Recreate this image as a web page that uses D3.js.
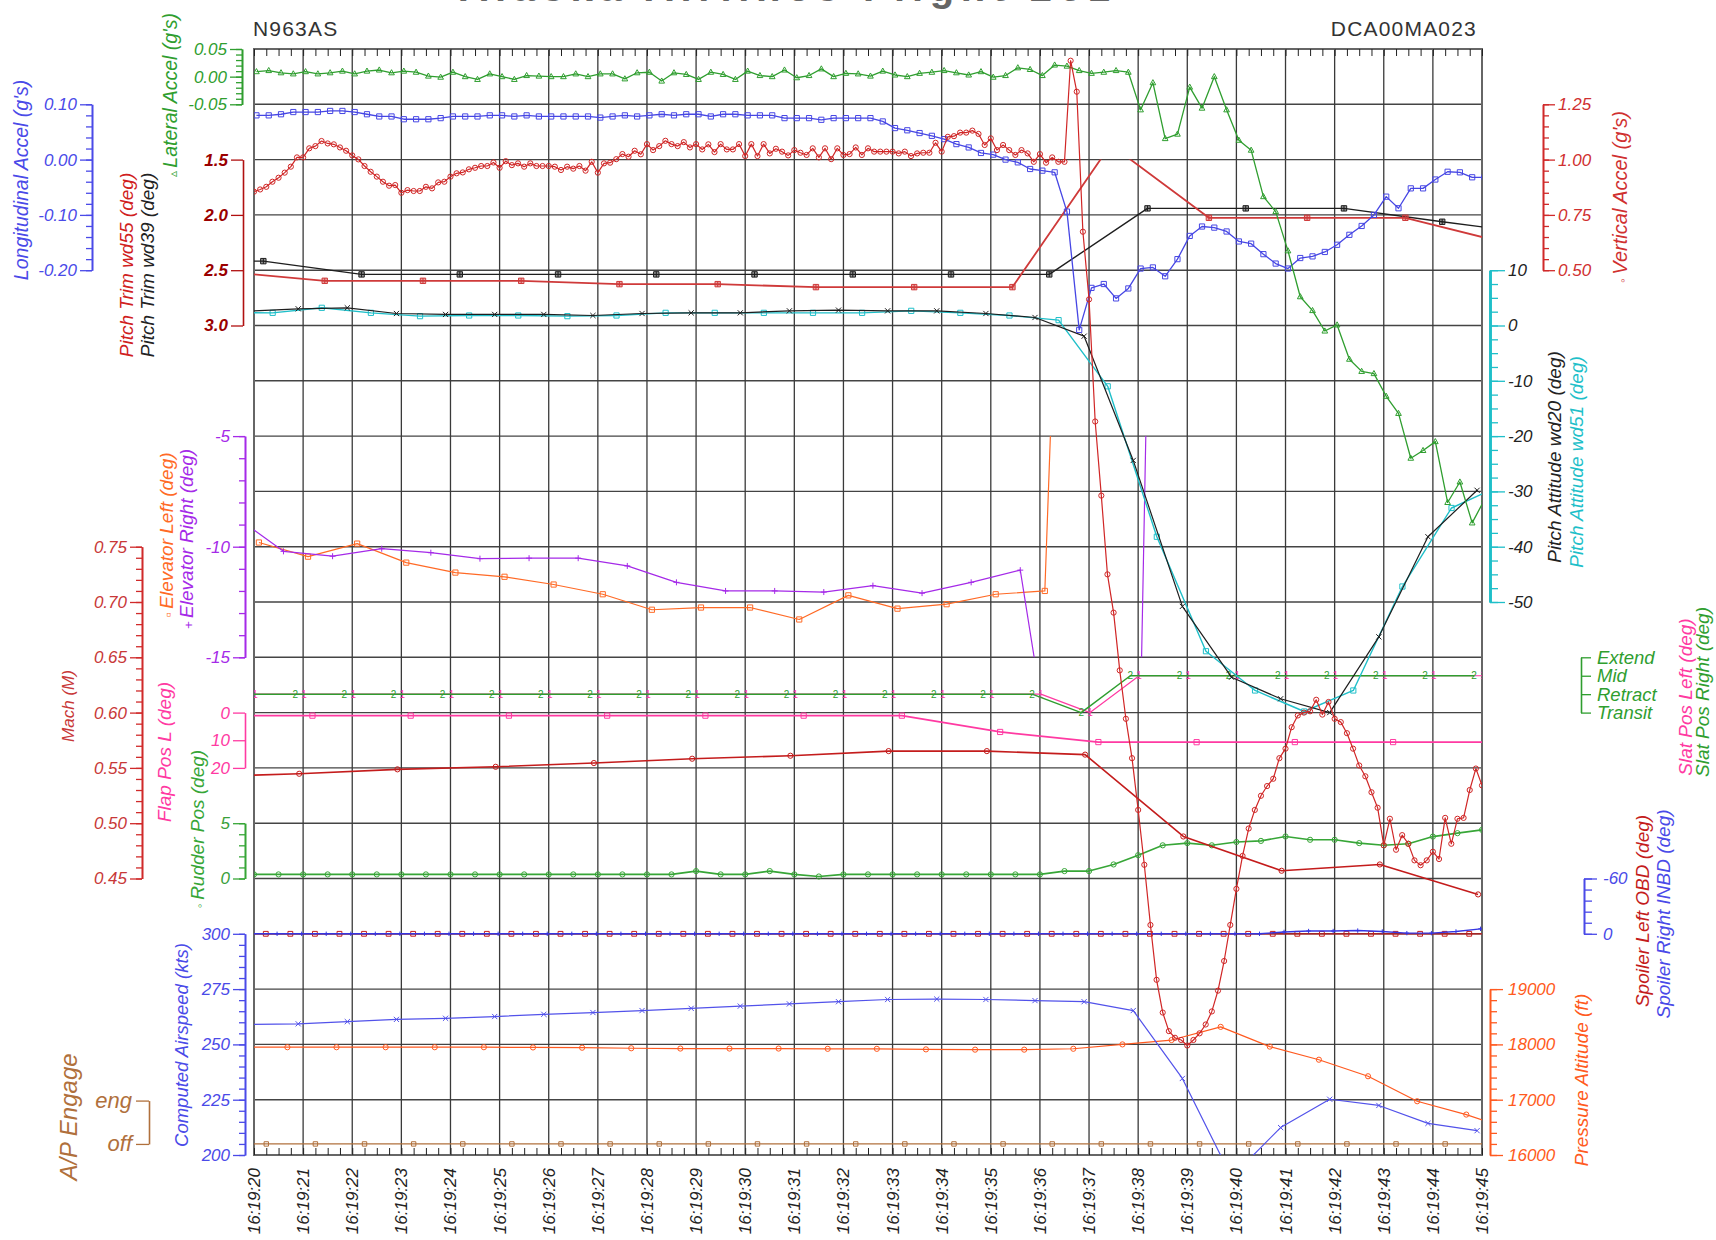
<!DOCTYPE html>
<html><head><meta charset="utf-8">
<script src="https://cdn.jsdelivr.net/npm/d3@7"></script>
<style>
body{margin:0;background:#fff}
svg text{font-family:"Liberation Sans","DejaVu Sans",sans-serif}
</style>
</head><body>
<svg id="c" width="1716" height="1240"></svg>
<script>
// ---------------- DATA ----------------
const timeTicks = [20,21,22,23,24,25,26,27,28,29,30,31,32,33,34,35,36,37,38,39,40,41,42,43,44,45];
const timeLabels = ["16:19:20","16:19:21","16:19:22","16:19:23","16:19:24","16:19:25","16:19:26","16:19:27","16:19:28","16:19:29","16:19:30","16:19:31","16:19:32","16:19:33","16:19:34","16:19:35","16:19:36","16:19:37","16:19:38","16:19:39","16:19:40","16:19:41","16:19:42","16:19:43","16:19:44","16:19:45"];

// accelerometers: 4 Hz samples starting 16:19:20.05
const accelStart = 20.05, accelStep = 0.25;
const lateralAccel = [0.009,0.011,0.007,0.005,0.009,0.005,0.007,0.010,0.005,0.010,
 0.012,0.007,0.010,0.008,0.001,-0.001,0.008,0.000,-0.005,0.005,
 0.000,-0.005,0.002,0.001,0.000,0.000,0.005,0.000,0.005,0.005,
 -0.004,0.007,0.008,-0.008,0.007,0.004,-0.005,0.008,0.004,-0.005,
 0.010,0.002,0.000,0.012,-0.002,0.002,0.014,0.000,0.006,0.005,
 0.001,0.010,0.003,0.000,0.006,0.008,
 0.011,0.007,0.003,0.009,-0.001,0.002,0.016,0.013,0.002,0.021,
 0.019,0.011,0.006,0.008,0.011,0.008,-0.060,-0.011,-0.112,-0.104,
 -0.019,-0.057,0.000,-0.060,-0.115,-0.133,-0.217,-0.244,-0.315,-0.398,
 -0.423,-0.460,-0.449,-0.511,-0.533,-0.537,-0.578,-0.609,-0.690,-0.676,
 -0.660,-0.770,-0.733,-0.807,-0.765];
const longAccel = [0.080,0.080,0.082,0.086,0.086,0.086,0.088,0.088,0.086,0.082,
 0.078,0.078,0.073,0.073,0.073,0.075,0.078,0.078,0.078,0.080,
 0.080,0.078,0.080,0.078,0.078,0.078,0.078,0.078,0.076,0.078,
 0.080,0.078,0.080,0.082,0.080,0.082,0.082,0.078,0.082,0.082,
 0.080,0.080,0.080,0.075,0.075,0.075,0.072,0.075,0.075,0.075,
 0.075,0.069,0.057,0.053,0.048,0.043,
 0.037,0.028,0.022,0.012,0.009,0.000,-0.005,-0.017,-0.020,-0.023,
 -0.094,-0.308,-0.232,-0.225,-0.251,-0.233,-0.197,-0.195,-0.211,-0.180,
 -0.138,-0.121,-0.123,-0.130,-0.148,-0.152,-0.171,-0.188,-0.197,-0.178,
 -0.175,-0.167,-0.154,-0.136,-0.120,-0.100,-0.067,-0.088,-0.052,-0.052,
 -0.036,-0.022,-0.023,-0.032,-0.032];

// vertical accel: 8 Hz samples starting 16:19:20.00
const vertStart = 20.0, vertStep = 0.125;
const vertAccel = [0.855,0.865,0.877,0.900,0.918,0.941,0.968,1.010,1.010,1.051,
 1.061,1.084,1.073,1.069,1.055,1.040,1.019,1.001,0.971,0.945,
 0.923,0.900,0.882,0.885,0.850,0.862,0.858,0.858,0.877,0.870,
 0.897,0.900,0.923,0.938,0.942,0.956,0.963,0.971,0.971,0.987,
 0.963,0.993,0.975,0.983,0.968,0.983,0.971,0.971,0.971,0.968,
 0.953,0.968,0.959,0.971,0.950,0.990,0.941,0.983,0.986,1.002,
 1.025,1.013,1.040,1.024,1.070,1.043,1.061,1.085,1.070,1.061,
 1.079,1.055,1.070,1.046,1.069,1.034,1.070,1.046,1.046,1.070,
 1.016,1.070,1.016,1.070,1.028,1.049,1.036,1.019,1.043,1.031,
 1.021,1.051,1.010,1.051,1.002,1.051,1.021,1.025,1.055,1.021,
 1.051,1.036,1.036,1.036,1.036,1.028,1.036,1.016,1.028,1.031,
 1.031,1.076,
 1.036,1.103,1.106,1.122,1.122,1.131,1.116,1.066,1.096,1.043,
 1.066,1.043,1.021,1.043,1.028,0.990,1.025,0.986,1.010,0.990,
 0.990,1.447,1.307,0.674,0.368,
 -0.184,-0.519,-0.875,-1.048,-1.309,-1.528,-1.706,
 -1.940,-2.188,-2.460,-2.708,-2.856,-2.940,-2.970,-2.980,-3.005,-2.980,
 -2.950,-2.910,-2.851,-2.757,-2.623,-2.460,-2.297,-2.148,-2.024,-1.940,
 -1.876,-1.832,
 -1.799,-1.706,-1.663,-1.566,-1.513,-1.500,-1.494,-1.442,-1.509,-1.452,
 -1.528,-1.543,-1.593,-1.663,-1.739,-1.788,
 -1.860,-1.930,-2.100,-1.980,-2.120,
 -2.054,-2.093,-2.168,-2.190,-2.168,-2.129,-2.162,-1.976,-2.093,-1.980,
 -1.976,-1.850,-1.753,-1.829];

const trim55T = [19.44,21.44,23.44,25.44,27.44,29.44,31.44,33.44,35.44,37.44,39.44,41.44,43.44,45.44];
const trim55 = [2.515,2.596,2.596,2.596,2.626,2.626,2.653,2.653,2.653,1.366,2.026,2.026,2.026,2.249];
const trim39T = [18.19,20.19,22.19,24.19,26.19,28.19,30.19,32.19,34.19,36.19,38.19,40.19,42.19,44.19,46.19];
const trim39 = [2.418,2.418,2.538,2.538,2.538,2.538,2.538,2.538,2.538,2.538,1.941,1.941,1.941,2.062,2.176];

const pitch20T = [19.9,20.9,21.9,22.9,23.9,24.9,25.9,26.9,27.9,28.9,29.9,30.9,31.9,32.9,33.9,34.9,35.9,36.9,37.9,38.9,39.9,40.9,41.9,42.9,43.9,44.9];
const pitch20 = [2.6,3.02,3.2,2.17,2.0,2.0,2.0,1.81,2.17,2.29,2.29,2.65,2.78,2.65,2.65,2.17,1.45,-1.93,-24.4,-50.8,-63.6,-67.5,-70.0,-56.3,-38.2,-29.8];
const pitch51T = [19.38,20.38,21.38,22.38,23.38,24.38,25.38,26.38,27.38,28.38,29.38,30.38,31.38,32.38,33.38,34.38,35.38,36.38,37.38,38.38,39.38,40.38,41.38,42.38,43.38,44.38,45.38];
const pitch51 = [2.3,2.29,3.2,2.29,1.69,1.81,1.81,1.69,1.81,2.29,2.29,2.29,2.29,2.29,2.65,2.29,1.81,0.97,-11.0,-38.2,-58.9,-66.0,-69.8,-66.0,-47.2,-33.0,-28.9];

const elevLT = [20.1,21.1,22.1,23.1,24.1,25.1,26.1,27.1,28.1,29.1,30.1,31.1,32.1,33.1,34.1,35.1,36.1,37.1];
const elevL = [-9.81,-10.45,-9.86,-10.72,-11.17,-11.36,-11.71,-12.15,-12.85,-12.75,-12.75,-13.29,-12.20,-12.80,-12.60,-12.15,-12.00,50];
const elevRT = [19.6,20.6,21.6,22.6,23.6,24.6,25.6,26.6,27.6,28.6,29.6,30.6,31.6,32.6,33.6,34.6,35.6,36.6,37.6,38.6];
const elevR = [-8.6,-10.21,-10.43,-10.09,-10.27,-10.54,-10.52,-10.52,-10.87,-11.61,-12.0,-12.0,-12.05,-11.76,-12.1,-11.61,-11.06,-25,-70,47];

const slatStates = ["Extend","Mid","Retract","Transit"];
const slatLT = [20.02,21.02,22.02,23.02,24.02,25.02,26.02,27.02,28.02,29.02,30.02,31.02,32.02,33.02,34.02,35.02,36.02,37.02,38.02,39.02,40.02,41.02,42.02,43.02,44.02,45.02];
const slatL = ["Retract","Retract","Retract","Retract","Retract","Retract","Retract","Retract","Retract","Retract","Retract","Retract","Retract","Retract","Retract","Retract","Retract","Transit","Mid","Mid","Mid","Mid","Mid","Mid","Mid","Mid"];
const slatRT = [19.84,20.84,21.84,22.84,23.84,24.84,25.84,26.84,27.84,28.84,29.84,30.84,31.84,32.84,33.84,34.84,35.84,36.84,37.84,38.84,39.84,40.84,41.84,42.84,43.84,44.84];
const slatR = ["Retract","Retract","Retract","Retract","Retract","Retract","Retract","Retract","Retract","Retract","Retract","Retract","Retract","Retract","Retract","Retract","Retract","Transit","Mid","Mid","Mid","Mid","Mid","Mid","Mid","Mid"];

const flapT = [19.19,21.19,23.19,25.19,27.19,29.19,31.19,33.19,35.19,37.19,39.19,41.19,43.19,45.19];
const flap = [1.1,1.1,1.1,1.1,1.1,1.1,1.1,1.1,7.0,10.66,10.7,10.66,10.66,10.66];

const machT = [18.92,20.92,22.92,24.92,26.92,28.92,30.92,32.92,34.92,36.92,38.92,40.92,42.92,44.92];
const mach = [0.542,0.5447,0.5487,0.551,0.5544,0.5583,0.561,0.5652,0.5652,0.562,0.488,0.457,0.4627,0.4356];

const rudderT = [20.0,20.5,21.0,21.5,22.0,22.5,23.0,23.5,24.0,24.5,25.0,25.5,26.0,26.5,27.0,27.5,28.0,28.5,29.0,29.5,30.0,30.5,31.0,31.5,32.0,32.5,33.0,33.5,34.0,34.5,35.0,35.5,36.0,36.5,37.0,37.5,38.0,38.5,39.0,39.5,40.0,40.5,41.0,41.5,42.0,42.5,43.0,43.5,44.0,44.5,45.0];
const rudder = [0.37,0.37,0.37,0.37,0.37,0.37,0.37,0.37,0.37,0.37,0.37,0.37,0.37,0.37,0.37,0.37,0.37,0.37,0.67,0.37,0.37,0.67,0.37,0.18,0.37,0.37,0.37,0.37,0.37,0.37,0.37,0.37,0.37,0.67,0.67,1.27,2.11,3.0,3.2,3.0,3.3,3.4,3.8,3.5,3.5,3.2,3.0,3.14,3.79,4.1,4.4];

const spoilLT = [19.74,20.24,20.74,21.24,21.74,22.24,22.74,23.24,23.74,24.24,24.74,25.24,25.74,26.24,26.74,27.24,27.74,28.24,28.74,29.24,29.74,30.24,30.74,31.24,31.74,32.24,32.74,33.24,33.74,34.24,34.74,35.24,35.74,36.24,36.74,37.24,37.74,38.24,38.74,39.24,39.74,40.24,40.74,41.24,41.74,42.24,42.74,43.24,43.74,44.24,44.74,45.24];
const spoilL = [0,0,0,0,0,0,0,0,0,0,0,0,0,0,0,0,0,0,0,0,0,0,0,0,0,0,0,0,0,0,0,0,0,0,0,0,0,0,0,0,0,0,0,0,0,0,0,0,0,0,0,0];
const spoilRT = [19.97,20.47,20.97,21.47,21.97,22.47,22.97,23.47,23.97,24.47,24.97,25.47,25.97,26.47,26.97,27.47,27.97,28.47,28.97,29.47,29.97,30.47,30.97,31.47,31.97,32.47,32.97,33.47,33.97,34.47,34.97,35.47,35.97,36.47,36.97,37.47,37.97,38.47,38.97,39.47,39.97,40.47,40.97,41.47,41.97,42.47,42.97,43.47,43.97,44.47,44.97,45.47];
const spoilR = [0,0,0,0,0,0,0,0,0,0,0,0,0,0,0,0,0,0,0,0,0,0,0,0,0,0,0,0,0,0,0,0,0,0,0,0,0,0,0,0,0,0,-2,-3,-3,-3.5,-2.5,-0.7,-0.7,-2.5,-5.4,-8];

const casT = [19.9,20.9,21.9,22.9,23.9,24.9,25.9,26.9,27.9,28.9,29.9,30.9,31.9,32.9,33.9,34.9,35.9,36.9,37.9,38.9,39.9,40.9,41.9,42.9,43.9,44.9];
const cas = [259.0,259.3,260.3,261.3,261.8,262.6,263.6,264.4,265.3,266.3,267.3,268.3,269.3,270.3,270.5,270.3,269.8,269.3,265.3,234.6,190.0,212.4,225.2,222.4,214.3,211.0];

const altT = [19.68,20.68,21.68,22.68,23.68,24.68,25.68,26.68,27.68,28.68,29.68,30.68,31.68,32.68,33.68,34.68,35.68,36.68,37.68,38.68,39.68,40.68,41.68,42.68,43.68,44.68,45.68];
const alt = [17950,17949,17949,17949,17949,17949,17945,17940,17930,17925,17925,17925,17920,17920,17910,17905,17905,17921,18000,18079,18317,17960,17723,17424,16972,16731,16431];

const apStates = ["eng","off"];
const apT = [19.25,20.25,21.25,22.25,23.25,24.25,25.25,26.25,27.25,28.25,29.25,30.25,31.25,32.25,33.25,34.25,35.25,36.25,37.25,38.25,39.25,40.25,41.25,42.25,43.25,44.25,45.25];
const ap = ["off","off","off","off","off","off","off","off","off","off","off","off","off","off","off","off","off","off","off","off","off","off","off","off","off","off","off"];

// tick values
const latTicks=[0.05,0,-0.05], longTicks=[0.10,0,-0.10,-0.20], trimTicks=[1.5,2.0,2.5,3.0];
const elevTicks=[-5,-10,-15], machTicks=[0.75,0.70,0.65,0.60,0.55,0.50,0.45], flapTicks=[0,10,20];
const rudTicks=[5,0], casTicks=[300,275,250,225,200], vertTicks=[1.25,1.00,0.75,0.50];
const pitchTicks=[10,0,-10,-20,-30,-40,-50], spoilTicks=[-60,0], altTicks=[19000,18000,17000,16000];

// ---------------- LAYOUT ----------------
const L=254,R=1482,T=49,B=1155;
const rowH=(B-T)/20;
const rowY=r=>T+r*rowH;
const x=d3.scaleLinear().domain([20,45]).range([L,R]);
const svg=d3.select("#c");
const FONT='"Liberation Sans","DejaVu Sans",sans-serif';

const defs=svg.append("defs");
function clip(id,y0,y1){defs.append("clipPath").attr("id",id).append("rect").attr("x",L).attr("y",y0).attr("width",R-L).attr("height",y1-y0);}
clip("clipPlot",T,B); clip("clipElev",rowY(7),rowY(11)); clip("clipTrim",rowY(2),B);

const yLat=d3.scaleLinear().domain([0.05,-0.05]).range([rowY(0),rowY(1)]);
const yLong=d3.scaleLinear().domain([0.10,-0.20]).range([rowY(1),rowY(4)]);
const yVert=d3.scaleLinear().domain([1.25,0.50]).range([rowY(1),rowY(4)]);
const yTrim=d3.scaleLinear().domain([1.5,3.0]).range([rowY(2),rowY(5)]);
const yPitch=d3.scaleLinear().domain([10,-50]).range([rowY(4),rowY(10)]);
const yElev=d3.scaleLinear().domain([-5,-15]).range([rowY(7),rowY(11)]);
const ySlat=d3.scalePoint().domain(slatStates).range([rowY(11),rowY(12)]);
const yMach=d3.scaleLinear().domain([0.75,0.45]).range([rowY(9),rowY(15)]);
const yFlap=d3.scaleLinear().domain([0,20]).range([rowY(12),rowY(13)]);
const yRud=d3.scaleLinear().domain([5,0]).range([rowY(14),rowY(15)]);
const ySpoil=d3.scaleLinear().domain([-60,0]).range([rowY(15),rowY(16)]);
const yCas=d3.scaleLinear().domain([300,200]).range([rowY(16),rowY(20)]);
const yAlt=d3.scaleLinear().domain([19000,16000]).range([rowY(17),rowY(20)]);
const yAP=d3.scalePoint().domain(apStates).range([rowY(19.016),rowY(19.8)]);

const C={lat:"#2f9e2f",long:"#4646e4",vert:"#d02626",trimR:"#cf3a3a",blk:"#1e1e1e",cyan:"#1fbfc9",
 elevL:"#ff6a26",elevR:"#a52ae8",pink:"#ff3aa2",mach:"#c41c1c",rud:"#37a637",spoilL:"#c41c1c",spoilR:"#3636e2",
 cas:"#5252ea",alt:"#ff5a20",ap:"#b0703c"};

// ---------------- TEXT: titles ----------------
svg.append("text").attr("x",788).attr("y",1).attr("text-anchor","middle").style("font-size","40px").style("font-weight","bold")
 .style("letter-spacing","6.7px").attr("fill","#666").text("Alaska Airlines Flight 261");
svg.append("text").attr("x",L-1).attr("y",36).style("font-size","21px").style("letter-spacing","1.2px").attr("fill","#333").text("N963AS");
svg.append("text").attr("x",1477).attr("y",36).attr("text-anchor","end").style("font-size","21px").style("letter-spacing","1.2px").attr("fill","#333").text("DCA00MA023");

// ---------------- GRID ----------------
const grid=svg.append("g");
grid.selectAll("line.h").data(d3.range(0,21)).join("line").attr("x1",L).attr("x2",R)
 .attr("y1",d=>rowY(d)).attr("y2",d=>rowY(d)).attr("stroke","#444").attr("stroke-width",1.4);
grid.selectAll("line.v").data(timeTicks).join("line").attr("y1",T).attr("y2",B)
 .attr("x1",d=>x(d)).attr("x2",d=>x(d)).attr("stroke","#3a3a3a").attr("stroke-width",1.3);
svg.append("rect").attr("x",L).attr("y",T).attr("width",R-L).attr("height",B-T).attr("fill","none").attr("stroke","#666").attr("stroke-width",2);

const quarter=d3.range(0,101).map(i=>20+i*0.25);
svg.append("g").attr("transform",`translate(0,${B})`).call(d3.axisBottom(x).tickValues(quarter).tickSize(-7).tickSizeOuter(0).tickFormat(""))
 .call(g=>{g.select(".domain").remove();g.selectAll("line").attr("stroke","#222");});
svg.append("g").attr("transform",`translate(0,${T})`).call(d3.axisTop(x).tickValues(quarter).tickSize(-7).tickSizeOuter(0).tickFormat(""))
 .call(g=>{g.select(".domain").remove();g.selectAll("line").attr("stroke","#222");});

svg.append("g").selectAll("text").data(timeTicks).join("text")
 .attr("transform",d=>`translate(${x(d)+6},${B+13}) rotate(-90)`).attr("text-anchor","end")
 .style("font-size","17px").style("font-style","italic").attr("fill","#222").text((d,i)=>timeLabels[i]);

// ---------------- AXES ----------------
const hy=v=>(v<0?"-":"")+Math.abs(v);
function f(n){return v=>{const s=Math.abs(v).toFixed(n);return (v<0&&+s!==0?"-":"")+s;};}
function vAxis(side,xpos,scale,major,minor,color,fmt,o={}){
  const g=svg.append("g").attr("transform",`translate(${xpos},0)`);
  const mk=side==="left"?d3.axisLeft:d3.axisRight;
  if(minor) g.append("g").call(mk(scale).tickValues(minor).tickSize(o.minorLen||6).tickSizeOuter(0).tickFormat(""));
  const a=g.append("g").call(mk(scale).tickValues(major).tickSize(o.majorLen||12).tickSizeOuter(0).tickPadding(o.pad||3).tickFormat(fmt));
  g.selectAll("path.domain").attr("stroke",color).attr("stroke-width",o.axisW||1.6);
  g.selectAll(".tick line").attr("stroke",color).attr("stroke-width",1.3);
  a.selectAll(".tick text").attr("fill",o.labelColor||color).style("font-size",(o.fs||17)+"px")
   .style("font-style","italic").style("font-weight",o.bold?"bold":"normal").style("font-family",FONT);
  return g;
}
const seq=(a,step,n)=>d3.range(0,n).map(i=>a+i*step);
vAxis("left",242,yLat,latTicks,seq(-0.05,0.01,11),C.lat,f(2));
vAxis("left",92,yLong,longTicks,seq(-0.20,0.02,16),"#4a4ae8",f(2));
vAxis("left",243,yTrim,trimTicks,null,"#b01010",f(1),{labelColor:"#9a0000",bold:true});
vAxis("left",245,yElev,elevTicks,seq(-15,1,11),C.elevR,hy);
vAxis("left",142,yMach,machTicks,seq(0.45,0.01,31),"#d02a2a",f(2),{labelColor:"#c83838"});
vAxis("left",245,yFlap,flapTicks,null,C.pink,hy);
vAxis("left",245,yRud,rudTicks,seq(0,1,6),C.rud,hy,{labelColor:"#3aa03a"});
vAxis("left",245,yCas,casTicks,seq(200,5,21),"#4a4ae8",hy);
vAxis("left",149,yAP,apStates,null,C.ap,d=>d,{fs:22,majorLen:13,pad:4});
vAxis("right",1543,yVert,vertTicks,seq(0.50,0.05,16),"#d02a2a",f(2),{labelColor:"#d03030"});
vAxis("right",1490,yPitch,pitchTicks,seq(-50,2.5,25),C.cyan,hy,{labelColor:"#222",majorLen:15,minorLen:8,axisW:2.6});
vAxis("right",1581,ySlat,slatStates,null,C.lat,d=>d,{majorLen:10,pad:6,fs:18.5});
vAxis("right",1584,ySpoil,spoilTicks,seq(-60,12,6),"#4a4ae8",hy,{majorLen:13,minorLen:8,pad:6});
vAxis("right",1490,yAlt,altTicks,seq(16000,200,16),C.alt,hy,{majorLen:13,minorLen:7,pad:5});

function vLabel(xc,yc,parts,fs=19){
  const t=svg.append("text").attr("transform",`translate(${xc+fs*0.36},${yc}) rotate(-90)`).attr("text-anchor","middle")
   .style("font-size",fs+"px").style("font-style","italic");
  parts.forEach(p=>t.append("tspan").attr("fill",p[1]).style("font-size",p[2]?p[2]+"px":null).text(p[0]));
}
vLabel(21,180,[["Longitudinal  Accel  (g's)","#4a4ae8"]],19.5);
vLabel(170,95,[["\u25B5 ",C.lat,12],["Lateral  Accel  (g's)",C.lat]],19.5);
vLabel(126,265,[["Pitch  Trim  wd55  (deg)","#d02020"]]);
vLabel(147,265,[["Pitch  Trim  wd39  (deg)","#222"]]);
vLabel(166,535,[["\u25AB ",C.elevL,14],["Elevator  Left  (deg)",C.elevL]]);
vLabel(186,539,[["+ ",C.elevR,13],["Elevator  Right  (deg)",C.elevR]]);
vLabel(68,706,[["Mach  (M)","#c83838"]],17);
vLabel(164,752,[["Flap  Pos  L  (deg)",C.pink]]);
vLabel(197,829,[["\u25E6 ",C.rud,13],["Rudder  Pos  (deg)",C.rud]]);
vLabel(181,1045,[["Computed  Airspeed  (kts)","#4a4ae8"]],18.5);
vLabel(68,1117,[["A/P  Engage",C.ap]],24);
vLabel(1620,197,[["\u25E6 ","#d03030",13],["Vertical  Accel  (g's)","#d03030"]],20);
vLabel(1554,457,[["Pitch  Attitude  wd20  (deg)","#222"]]);
vLabel(1576,462,[["Pitch  Attitude  wd51  (deg)",C.cyan]]);
vLabel(1685,697,[["Slat  Pos  Left  (deg)",C.pink]]);
vLabel(1702,692,[["Slat  Pos  Right  (deg)",C.lat]]);
vLabel(1642,911,[["Spoiler  Left  OBD  (deg)","#c41c1c"]]);
vLabel(1663,914,[["Spoiler  Right  INBD  (deg)","#4a4ae8"]]);
vLabel(1581,1080,[["Pressure  Altitude  (ft)",C.alt]]);

// ---------------- SERIES ----------------
function markerPath(type,s){
  switch(type){
    case "square":return `M${-s},${-s}h${2*s}v${2*s}h${-2*s}Z`;
    case "squarebar":return `M${-s},${-s}h${2*s}v${2*s}h${-2*s}ZM0,${-s}V${s}`;
    case "circle":return `M${s},0A${s},${s} 0 1,1 ${-s},0A${s},${s} 0 1,1 ${s},0Z`;
    case "triangle":return `M0,${-s*1.15}L${s*1.05},${s*0.75}L${-s*1.05},${s*0.75}Z`;
    case "x":return `M${-s},${-s}L${s},${s}M${-s},${s}L${s},${-s}`;
    case "plus":return `M${-s},0H${s}M0,${-s}V${s}`;
  }
}
function series(ts,vs,yS,color,marker,o={}){
  const g=svg.append("g").attr("clip-path",`url(#${o.clip||"clipPlot"})`);
  const pts=ts.map((t,i)=>[t,vs[i]]);
  g.append("path").attr("d",d3.line().x(d=>x(d[0])).y(d=>yS(d[1]))(pts))
   .attr("fill","none").attr("stroke",color).attr("stroke-width",o.w||1.2).attr("stroke-linejoin","round").attr("opacity",o.op||1);
  if(marker==="text"){
    g.selectAll("text").data(pts).join("text").attr("x",d=>x(d[0])).attr("y",d=>yS(d[1])).attr("dy","0.35em")
     .attr("text-anchor","middle").style("font-size","10px").attr("fill",color).text(o.glyph);
  } else if(marker){
    g.selectAll("path.m").data(pts).join("path").attr("class","m")
     .attr("transform",d=>`translate(${x(d[0])},${yS(d[1])})`)
     .attr("d",markerPath(marker,o.ms||2.6)).attr("fill",o.fill||"none").attr("fill-opacity",0.45).attr("stroke",color).attr("stroke-width",1);
  }
}
const accelT=lateralAccel.map((_,i)=>accelStart+i*accelStep);
const vertT=vertAccel.map((_,i)=>vertStart+i*vertStep);

series(apT,ap,yAP,C.ap,"square",{ms:2.2});
series(altT,alt,yAlt,C.alt,"circle",{ms:2.6});
series(casT,cas,yCas,C.cas,"x",{ms:2.6});
series(spoilLT,spoilL,ySpoil,C.spoilL,"square",{ms:2.4});
series(spoilRT,spoilR,ySpoil,C.spoilR,"plus",{ms:2.2,w:1.4});
series(rudderT,rudder,yRud,C.rud,"circle",{ms:2.6,w:1.6});
series(machT,mach,yMach,C.mach,"circle",{ms:2.6,w:1.6});
series(flapT,flap,yFlap,C.pink,"square",{ms:2.6,w:1.8});
series(slatLT,slatL,ySlat,C.pink,"text",{glyph:"1"});
series(slatRT,slatR,ySlat,C.lat,"text",{glyph:"2",w:1.5});
series(elevLT,elevL,yElev,C.elevL,"square",{ms:2.6,clip:"clipElev"});
series(elevRT,elevR,yElev,C.elevR,"plus",{ms:3,clip:"clipElev"});
series(trim39T,trim39,yTrim,C.blk,"squarebar",{ms:2.7,w:1.4,fill:C.blk});
series(trim55T,trim55,yTrim,C.trimR,"squarebar",{ms:2.7,w:1.8,clip:"clipTrim",fill:C.trimR});
series(pitch51T,pitch51,yPitch,C.cyan,"square",{ms:2.6,w:1.4});
series(pitch20T,pitch20,yPitch,C.blk,"x",{ms:2.6,w:1.2});
series(accelT,longAccel,yLong,C.long,"square",{ms:2.6,w:1.3});
series(accelT,lateralAccel,yLat,C.lat,"triangle",{ms:2.7,w:1.3});
series(vertT,vertAccel,yVert,C.vert,"circle",{ms:2.6,w:1.2});
</script>
</body></html>
